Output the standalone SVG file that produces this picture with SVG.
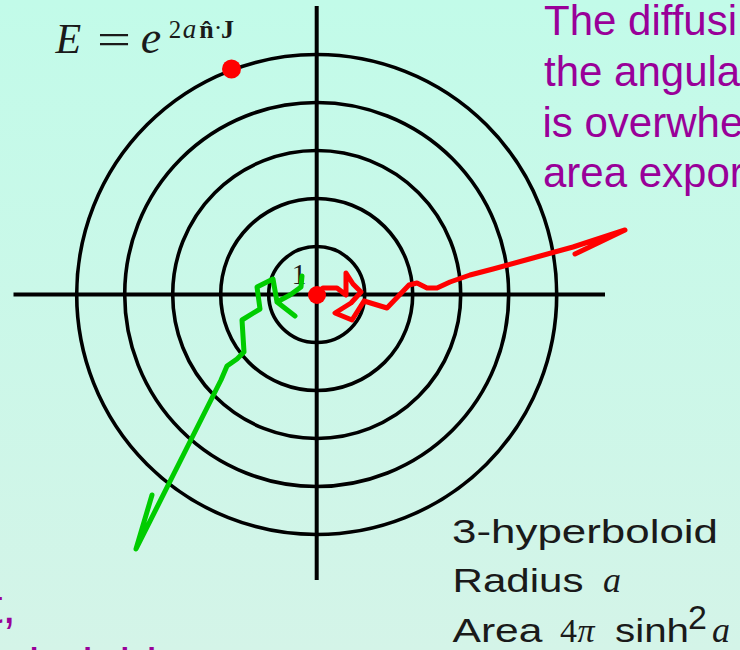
<svg xmlns="http://www.w3.org/2000/svg" width="740" height="650" viewBox="0 0 740 650">
  <defs>
    <linearGradient id="bg" x1="0" y1="0" x2="0" y2="1">
      <stop offset="0" stop-color="#c2fbe9"/>
      <stop offset="1" stop-color="#d4f4e8"/>
    </linearGradient>
    <style>
      .ring { fill: none; stroke: #000; stroke-width: 3.6; }
      .axis { stroke: #000; stroke-width: 4; }
      .walk { fill: none; stroke-width: 5; stroke-linecap: round; stroke-linejoin: round; }
      .serif { font-family: "Liberation Serif", "DejaVu Serif", serif; fill: #1a1a1a; }
      .purple { font-family: "Liberation Sans", Arial, sans-serif; fill: #990099; }
      .sans { font-family: "Liberation Sans", Arial, sans-serif; fill: #1a1a1a; font-size: 34px; }
      .it { font-style: italic; }
      .bf { font-weight: bold; }
    </style>
  </defs>

  <rect width="740" height="650" fill="url(#bg)"/>

  <g id="rings">
    <circle class="ring" cx="316.7" cy="294.5" r="48"/>
    <circle class="ring" cx="316.7" cy="294.5" r="96"/>
    <circle class="ring" cx="316.7" cy="294.5" r="144"/>
    <circle class="ring" cx="316.7" cy="294.5" r="192"/>
    <circle class="ring" cx="316.7" cy="294.5" r="240"/>
  </g>

  <g id="axes">
    <line class="axis" x1="13.5" y1="294.5" x2="605" y2="294.5"/>
    <line class="axis" x1="316.7" y1="6" x2="316.7" y2="580"/>
  </g>

  <g id="unit-label">
    <text class="serif" x="299" y="284" font-size="30" text-anchor="middle">1</text>
  </g>

  <g id="walks">
    <path id="green-walk" class="walk" stroke="#00cc00" d="M302,276 L301,287 L290,295 L277,302 L295,316 M277,302 L273,279 L257,287 L260,309 L242,320 L244,352 L237,359 L227,366 L221,380 L136,549 L152,495"/>
    <path id="red-walk" class="walk" stroke="#ff0000" d="M317,295 L323,288 L337,288 L346,295 L346,273 L353,284 L361,292 L351,303 L335,313 L352,320 L364,301 L387,308 L409,285 L417,283 L427,288 L437,288 L450,282 L470,275 L493,269 L533,258 L573,247 L625,230 L575,254"/>
  </g>

  <g id="dots">
    <circle cx="231.5" cy="69" r="9.5" fill="#ff0000"/>
    <circle cx="317" cy="295" r="9" fill="#ff0000"/>
  </g>

  <g id="formula" class="serif">
    <text class="it" x="68.3" y="53" font-size="42" text-anchor="middle">E</text>
    <text x="97" y="54" font-size="44" textLength="34" lengthAdjust="spacingAndGlyphs">=</text>
    <text class="it" x="151" y="53" font-size="46" text-anchor="middle">e</text>
    <text x="175" y="38" font-size="25" text-anchor="middle">2</text>
    <text class="it" x="189.5" y="38" font-size="27" text-anchor="middle">a</text>
    <text class="bf" x="206.5" y="38" font-size="26" text-anchor="middle">n̂</text>
    <text x="218" y="36" font-size="26" text-anchor="middle">·</text>
    <text class="bf" x="227.5" y="38" font-size="26" text-anchor="middle">J</text>
  </g>

  <g id="note-right" class="purple" font-size="42">
    <text x="544" y="35">The diffusi</text>
    <text x="544" y="86">the angula</text>
    <text x="542.5" y="137">is overwhe</text>
    <text x="543" y="187">area expor</text>
  </g>

  <g id="note-left" class="purple" font-size="48">
    <text x="15.8" y="623" text-anchor="end">t,</text>
    <text x="-91.3" y="682">hyperboloid</text>
  </g>

  <g id="caption">
    <text class="sans" x="452" y="543" textLength="266" lengthAdjust="spacingAndGlyphs">3-hyperboloid</text>
    <text class="sans" x="452.5" y="592" textLength="131" lengthAdjust="spacingAndGlyphs">Radius</text>
    <text class="serif it" x="612" y="592" font-size="36" text-anchor="middle">a</text>
    <text class="sans" x="452.5" y="642" textLength="90" lengthAdjust="spacingAndGlyphs">Area</text>
    <text class="serif" x="568.5" y="642" font-size="34" text-anchor="middle">4</text>
    <text class="serif it" x="586" y="642" font-size="34" text-anchor="middle">π</text>
    <text class="sans" x="615" y="642" textLength="74" lengthAdjust="spacingAndGlyphs">sinh</text>
    <text class="sans" x="697.5" y="629" font-size="20" text-anchor="middle">2</text>
    <text class="serif it" x="721" y="642" font-size="36" text-anchor="middle">a</text>
  </g>
</svg>
